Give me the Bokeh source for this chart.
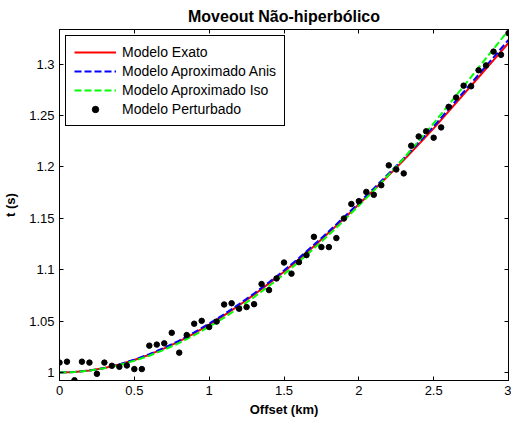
from bokeh.plotting import figure
from bokeh.models import Range1d, FixedTicker, LinearAxis
from bokeh.embed import file_html
from bokeh.resources import INLINE

TITLE = "Moveout Não-hiperbólico"
X_LABEL = "Offset (km)"
Y_LABEL = "t (s)"

offset_curve = [0.0, 0.1, 0.2, 0.3, 0.4, 0.5, 0.6, 0.7, 0.8, 0.9, 1.0,
                1.1, 1.2, 1.3, 1.4, 1.5, 1.6, 1.7, 1.8, 1.9, 2.0,
                2.1, 2.2, 2.3, 2.4, 2.5, 2.6, 2.7, 2.8, 2.9, 3.0]

modelo_exato = [1.0000, 1.0005, 1.0020, 1.0044, 1.0078, 1.0122, 1.0174, 1.0235, 1.0304, 1.0382, 1.0467,
                1.0557, 1.0655, 1.0758, 1.0867, 1.0981, 1.1103, 1.1229, 1.1361, 1.1496, 1.1636,
                1.1776, 1.1919, 1.2066, 1.2219, 1.2375, 1.2540, 1.2705, 1.2872, 1.3038, 1.3205]

modelo_anis = [1.0000, 1.0005, 1.0020, 1.0044, 1.0080, 1.0126, 1.0179, 1.0241, 1.0311, 1.0390, 1.0476,
               1.0567, 1.0665, 1.0769, 1.0878, 1.0993, 1.1115, 1.1242, 1.1374, 1.1510, 1.1650,
               1.1791, 1.1935, 1.2083, 1.2237, 1.2394, 1.2561, 1.2728, 1.2897, 1.3065, 1.3235]

modelo_iso = [1.0000, 1.0005, 1.0019, 1.0042, 1.0074, 1.0115, 1.0164, 1.0222, 1.0288, 1.0363, 1.0446,
              1.0534, 1.0631, 1.0733, 1.0842, 1.0956, 1.1079, 1.1206, 1.1340, 1.1478, 1.1623,
              1.1771, 1.1924, 1.2084, 1.2252, 1.2423, 1.2603, 1.2783, 1.2965, 1.3147, 1.3330]

offset_pert = [0.00, 0.05, 0.10, 0.15, 0.20, 0.25, 0.30, 0.35, 0.40, 0.45,
               0.50, 0.55, 0.60, 0.65, 0.70, 0.75, 0.80, 0.85, 0.90, 0.95,
               1.00, 1.05, 1.10, 1.15, 1.20, 1.25, 1.30, 1.35, 1.40, 1.45,
               1.50, 1.55, 1.60, 1.65, 1.70, 1.75, 1.80, 1.85, 1.90, 1.95,
               2.00, 2.05, 2.10, 2.15, 2.20, 2.25, 2.30, 2.35, 2.40, 2.45,
               2.50, 2.55, 2.60, 2.65, 2.70, 2.75, 2.80, 2.85, 2.90, 2.95,
               3.00]

modelo_perturbado = [1.0097, 1.0106, 0.9925, 1.0106, 1.0097, 0.9988, 1.0097, 1.0066, 1.0056, 1.0069,
                     1.0034, 1.0034, 1.0262, 1.0272, 1.0284, 1.0387, 1.0194, 1.0365, 1.0475, 1.0503,
                     1.0443, 1.0496, 1.0662, 1.0674, 1.0621, 1.0637, 1.0665, 1.0861, 1.0802, 1.0915,
                     1.1070, 1.0962, 1.1074, 1.1142, 1.1320, 1.1220, 1.1220, 1.1308, 1.1498, 1.1639,
                     1.1667, 1.1757, 1.1729, 1.1822, 1.2015, 1.1975, 1.1937, 1.2206, 1.2296, 1.2346,
                     1.2284, 1.2384, 1.2584, 1.2675, 1.2790, 1.2784, 1.2940, 1.2987, 1.3121, 1.3090,
                     1.3300]

x_ticks = [0, 0.5, 1, 1.5, 2, 2.5, 3]
x_tick_labels = ["0", "0.5", "1", "1.5", "2", "2.5", "3"]
y_ticks = [1.0, 1.05, 1.1, 1.15, 1.2, 1.25, 1.3]
y_tick_labels = ["1", "1.05", "1.1", "1.15", "1.2", "1.25", "1.3"]

legend_labels = ["Modelo Exato", "Modelo Aproximado Anis", "Modelo Aproximado Iso", "Modelo Perturbado"]

FONT = "Liberation Sans"

p = figure(width=511, height=420, output_backend="svg", toolbar_location=None,
           x_range=Range1d(0, 3), y_range=Range1d(0.9923, 1.3336),
           min_border_left=57, min_border_right=3, min_border_top=24, min_border_bottom=40,
           title=TITLE)

p.title.text_font = FONT
p.title.text_font_size = "16px"
p.title.text_font_style = "bold"
p.title.align = "center"
p.title.text_color = "black"

p.xgrid.visible = False
p.ygrid.visible = False
p.outline_line_color = "black"
p.outline_line_alpha = 1.0
p.background_fill_color = "white"
p.border_fill_color = "white"

def style_axis(ax, ticks, labels, show_labels=True):
    ax.ticker = FixedTicker(ticks=ticks)
    ax.major_label_overrides = {t: l for t, l in zip(ticks, labels)}
    ax.major_tick_in = 4
    ax.major_tick_out = 0
    ax.minor_tick_line_color = None
    ax.axis_line_color = "black"
    ax.major_tick_line_color = "black"
    ax.major_label_text_font = FONT
    ax.major_label_text_color = "black"
    if show_labels:
        ax.major_label_text_font_size = "13px"
        ax.major_label_standoff = 5
    else:
        ax.major_label_text_font_size = "0px"
        ax.major_label_standoff = 0

style_axis(p.xaxis[0], x_ticks, x_tick_labels)
style_axis(p.yaxis[0], y_ticks, y_tick_labels)
p.xaxis.axis_label = X_LABEL
p.yaxis.axis_label = Y_LABEL
for ax in (p.xaxis[0], p.yaxis[0]):
    ax.axis_label_text_font = FONT
    ax.axis_label_text_font_size = "13px"
    ax.axis_label_text_font_style = "bold"
    ax.axis_label_text_color = "black"
p.xaxis.axis_label_standoff = 4
p.yaxis.axis_label_standoff = 8

top_ax = LinearAxis()
style_axis(top_ax, x_ticks, [""] * len(x_ticks), show_labels=False)
p.add_layout(top_ax, "above")
right_ax = LinearAxis()
style_axis(right_ax, y_ticks, [""] * len(y_ticks), show_labels=False)
p.add_layout(right_ax, "right")

p.line(offset_curve, modelo_exato, line_color="#ff0000", line_width=2, legend_label=legend_labels[0])
p.line(offset_curve, modelo_anis, line_color="#0000ff", line_width=2, line_dash="7 3", legend_label=legend_labels[1])
p.line(offset_curve, modelo_iso, line_color="#00ff00", line_width=2, line_dash="7 3", legend_label=legend_labels[2])
p.scatter(offset_pert, modelo_perturbado, size=5.5, fill_color="black", line_color="black", legend_label=legend_labels[3])

lg = p.legend[0]
lg.location = "top_left"
lg.margin = 6
lg.border_line_color = "black"
lg.border_line_width = 1
lg.border_line_alpha = 1.0
lg.background_fill_color = "white"
lg.background_fill_alpha = 1.0
lg.label_text_font = FONT
lg.label_text_font_size = "14px"
lg.label_text_color = "black"
lg.glyph_width = 42
lg.glyph_height = 16
lg.label_height = 16
lg.spacing = 3
lg.padding = 8
lg.label_standoff = 6

open("out.html", "w").write(file_html(p, INLINE))
